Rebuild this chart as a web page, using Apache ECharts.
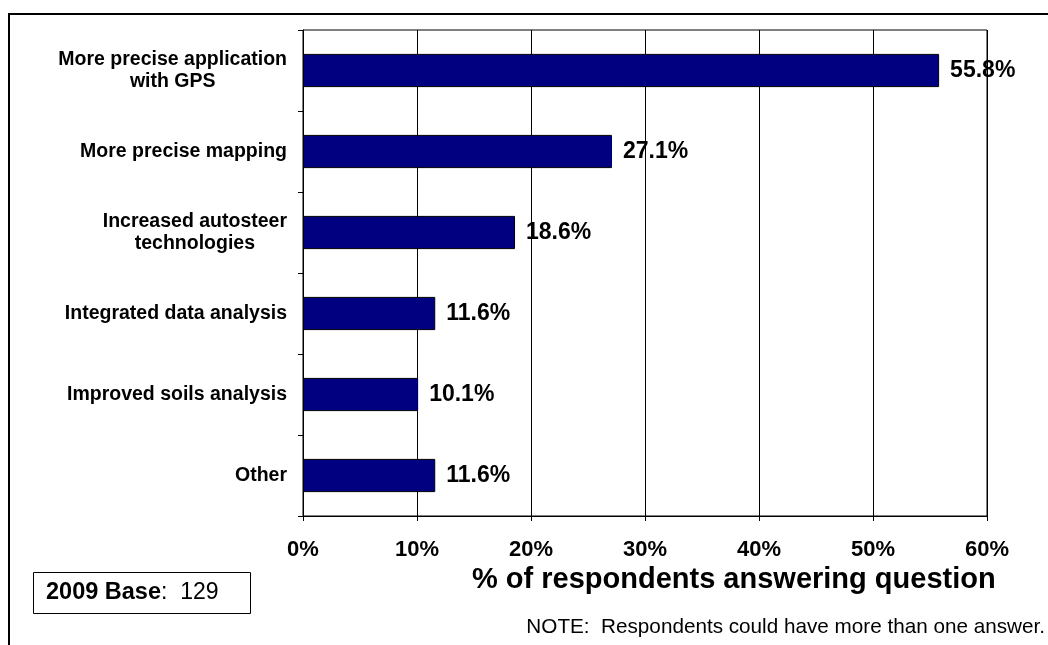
<!DOCTYPE html>
<html>
<head>
<meta charset="utf-8">
<script src="https://cdn.jsdelivr.net/npm/echarts@6/dist/echarts.min.js"></script>
<style>
html,body{margin:0;padding:0;background:#fff;}
#chart{width:1048px;height:645px;}
</style>
</head>
<body>
<div id="chart"></div>
<script>
const categories = [
  "More precise application\nwith GPS",
  "More precise mapping",
  "Increased autosteer\ntechnologies",
  "Integrated data analysis",
  "Improved soils analysis",
  "Other"
];
const values = [55.8, 27.1, 18.6, 11.6, 10.1, 11.6];
const xTicks = { min: 0, max: 60, interval: 10 };
const axisTitle = "% of respondents answering question";
const noteText = "NOTE:  Respondents could have more than one answer.";
const baseLabelBold = "2009 Base";
const baseLabelRest = ":  129";

const FONT = "'Liberation Sans', Arial, sans-serif";
const chart = echarts.init(document.getElementById('chart'), null, { renderer: 'canvas' });

chart.setOption({
  backgroundColor: '#ffffff',
  animation: false,
  grid: {
    left: 303, right: 61, top: 30, bottom: 129,
    show: true, borderColor: '#000', borderWidth: 1
  },
  title: {
    text: axisTitle,
    left: 472, top: 565,
    textStyle: { fontFamily: FONT, fontWeight: 'bold', fontSize: 29, color: '#000' },
    padding: 0
  },
  xAxis: {
    type: 'value',
    min: xTicks.min, max: xTicks.max, interval: xTicks.interval,
    axisLine: { show: true, lineStyle: { color: '#000', width: 1 } },
    axisTick: { show: true, length: 5, lineStyle: { color: '#000' } },
    splitLine: { show: true, lineStyle: { color: '#000', width: 1 } },
    axisLabel: {
      formatter: '{value}%', margin: 23,
      fontFamily: FONT, fontWeight: 'bold', fontSize: 22, color: '#000'
    }
  },
  yAxis: {
    type: 'category',
    data: categories,
    inverse: true,
    axisLine: { show: true, lineStyle: { color: '#000', width: 1 } },
    axisTick: { show: true, length: 5, lineStyle: { color: '#000' } },
    axisLabel: {
      margin: 16,
      formatter: function (v) {
        return v.split('\n').map(function (s) { return '{c|' + s + '}'; }).join('\n');
      },
      rich: {
        c: { fontFamily: FONT, fontWeight: 'bold', fontSize: 19.5, color: '#000', align: 'center', lineHeight: 22 }
      }
    }
  },
  series: [{
    type: 'bar',
    data: values,
    barWidth: '41%',
    itemStyle: { color: '#000080', borderColor: '#000', borderWidth: 1 },
    label: {
      show: true, position: 'right', distance: 11,
      formatter: function (p) { return p.value.toFixed(1) + '%'; },
      fontFamily: FONT, fontWeight: 'bold', fontSize: 23, color: '#000'
    }
  }],
  graphic: [
    {
      type: 'polyline',
      shape: { points: [[9, 645], [9, 14], [1048, 14]] },
      style: { stroke: '#000', lineWidth: 2, fill: null },
      silent: true
    },
    {
      type: 'rect',
      shape: { x: 33.5, y: 572.5, width: 217, height: 41 },
      style: { stroke: '#000', lineWidth: 1, fill: '#fff' },
      silent: true
    },
    {
      type: 'text',
      x: 46, y: 593,
      style: {
        text: '{b|' + baseLabelBold + '}{r|' + baseLabelRest + '}',
        verticalAlign: 'middle',
        rich: {
          b: { fontFamily: FONT, fontWeight: 'bold', fontSize: 23.5, fill: '#000' },
          r: { fontFamily: FONT, fontWeight: 'normal', fontSize: 23, fill: '#000' }
        }
      },
      silent: true
    },
    {
      type: 'text',
      right: 3, top: 617,
      style: {
        text: noteText,
        fontFamily: FONT, fontSize: 20.7, fill: '#000'
      },
      silent: true
    }
  ]
});
</script>
</body>
</html>
